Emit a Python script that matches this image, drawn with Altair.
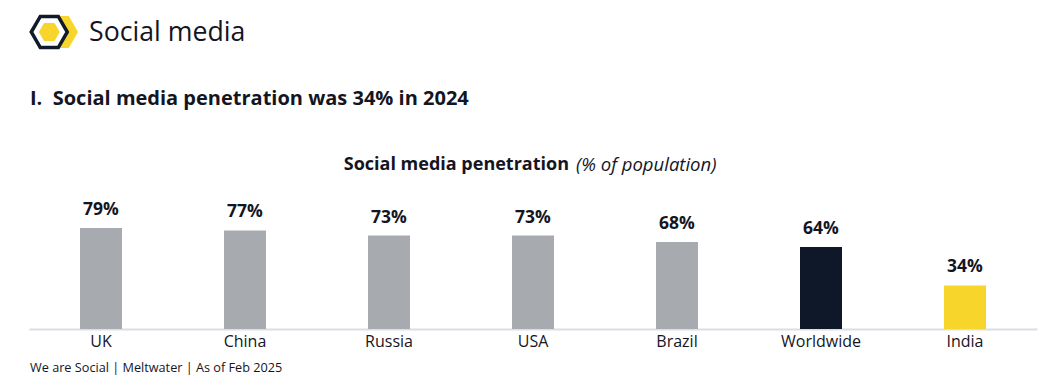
import altair as alt
import pandas as pd

countries = ["UK", "China", "Russia", "USA", "Brazil", "Worldwide", "India"]
values = [79, 77, 73, 73, 68, 64, 34]
groups = ["Country", "Country", "Country", "Country", "Country", "World", "Highlight"]
group_domain = ["Country", "World", "Highlight"]
group_colors = ["#A7ABB0", "#0F1828", "#F8D52B"]

header_text = "Social media"
section_text = "I.\u00a0\u00a0Social media penetration was 34% in 2024"
chart_title_bold = "Social media penetration"
chart_title_italic = "(% of population)"
footer_text = "We are Social | Meltwater | As of Feb 2025"

FONT = "Open Sans"
TEXT = "#15151f"

df = pd.DataFrame({"country": countries, "value": values, "group": groups})
df["label"] = df["value"].astype(str) + "%"

x_enc = alt.X(
    "country:N",
    sort=countries,
    scale=alt.Scale(paddingInner=0, paddingOuter=0),
    axis=alt.Axis(
        title=None,
        ticks=False,
        domainColor="#DCDDE3",
        domainWidth=2,
        labelFont=FONT,
        labelFontSize=16,
        labelColor=TEXT,
        labelPadding=4,
        labelAngle=0,
        grid=False,
    ),
)
y_enc = alt.Y("value:Q", scale=alt.Scale(domain=[0, 100]), axis=None)

bars = alt.Chart(df).mark_bar(size=42).encode(
    x=x_enc,
    y=y_enc,
    color=alt.Color("group:N", scale=alt.Scale(domain=group_domain, range=group_colors), legend=None),
)
labels = alt.Chart(df).mark_text(
    font=FONT, fontSize=17.5, fontWeight="bold", color=TEXT, baseline="alphabetic", dy=-13
).encode(x=alt.X("country:N", sort=countries), y="value:Q", text="label:N")

one = alt.Data(values=[{"a": 1}])

hex_path = "M -1 0 L -0.5 -0.866 L 0.5 -0.866 L 1 0 L 0.5 0.866 L -0.5 0.866 Z"

hex_back = alt.Chart(one).mark_point(
    shape=hex_path, filled=True, fill="#F8D52B", size=37 * 37, opacity=1, strokeWidth=0
).encode(x=alt.value(30.5), y=alt.value(-169))
hex_outline = alt.Chart(one).mark_point(
    shape=hex_path, filled=False, fill="white", fillOpacity=1, stroke="#111A2B", strokeWidth=3.5,
    size=36 * 36, opacity=1
).encode(x=alt.value(20.3), y=alt.value(-169))
hex_inner = alt.Chart(one).mark_point(
    shape=hex_path, filled=True, fill="#F8D52B", size=21 * 21, opacity=1, strokeWidth=0
).encode(x=alt.value(20.3), y=alt.value(-169))

def txt(text, x, y, size, weight="normal", style="normal", align="left"):
    return alt.Chart(alt.Data(values=[{"t": text}])).mark_text(
        font=FONT, fontSize=size, fontWeight=weight, fontStyle=style, align=align,
        baseline="middle", color=TEXT
    ).encode(x=alt.value(x), y=alt.value(y), text="t:N")

header = txt(header_text, 60, -168, 26.7)
section = txt(section_text, 1, -102, 20, weight="bold")
ct_bold = txt(chart_title_bold, 540, -36, 18, weight="bold", align="right")
ct_ital = txt(chart_title_italic, 547, -36, 18.5, style="italic")
footer = txt(footer_text, 1, 167, 12.7)

chart = alt.layer(
    bars, labels, hex_back, hex_outline, hex_inner, header, section, ct_bold, ct_ital, footer
).properties(
    width=1008,
    height=128,
    autosize=alt.AutoSizeParams(type="none"),
    padding={"left": 21, "top": 193, "right": 8, "bottom": 51},
    background="white",
).configure_view(stroke=None)

chart.save("out.html", embed_options={"renderer": "svg", "actions": False})
